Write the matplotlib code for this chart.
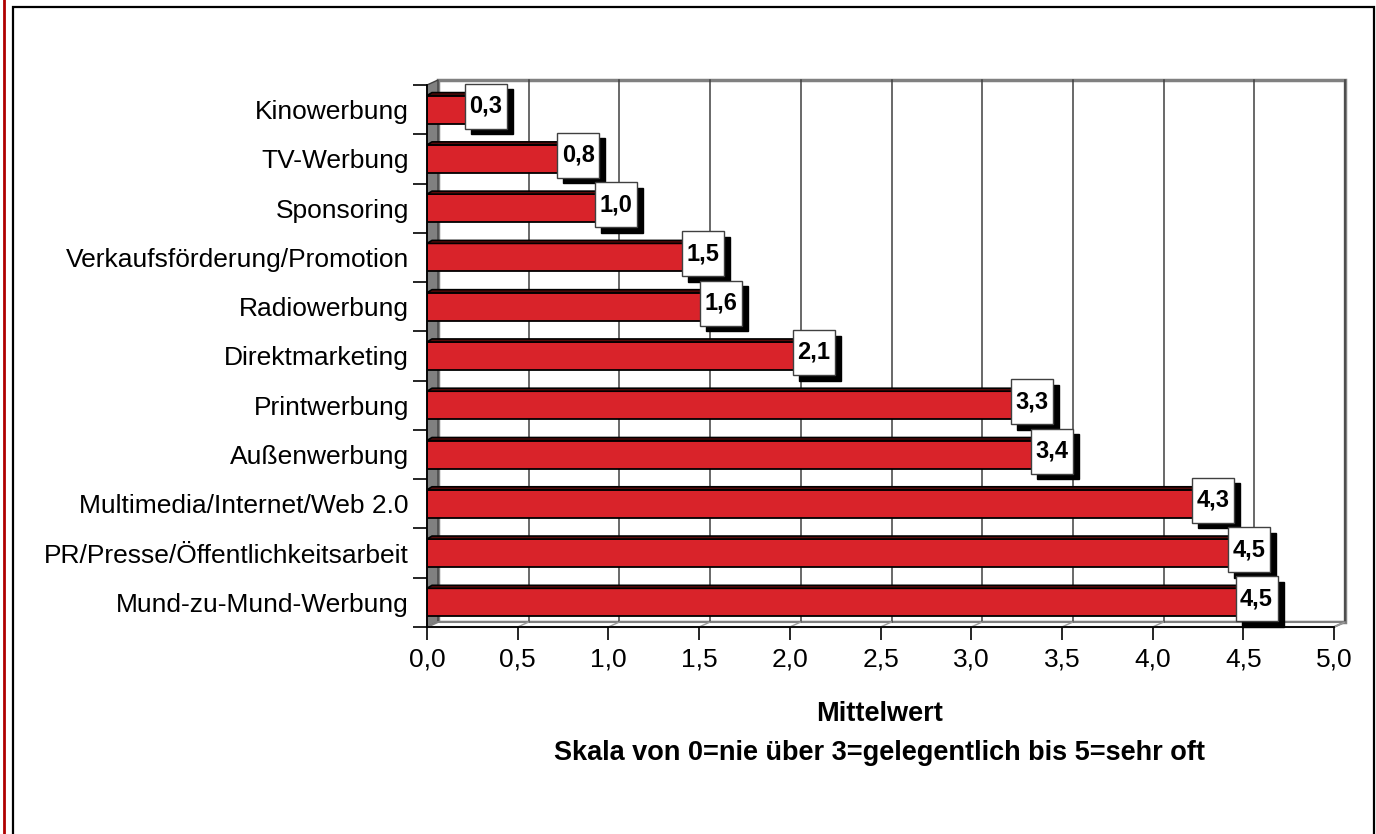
import matplotlib
matplotlib.use("Agg")
import matplotlib.pyplot as plt
from matplotlib.patches import Polygon, Rectangle
from matplotlib.lines import Line2D

plt.rcParams['font.family'] = ['Liberation Sans', 'DejaVu Sans']

# data (top to bottom as shown)
categories = ["Kinowerbung", "TV-Werbung", "Sponsoring", "Verkaufsförderung/Promotion",
              "Radiowerbung", "Direktmarketing", "Printwerbung", "Außenwerbung",
              "Multimedia/Internet/Web 2.0", "PR/Presse/Öffentlichkeitsarbeit",
              "Mund-zu-Mund-Werbung"]
values = [0.29, 0.80, 1.01, 1.49, 1.59, 2.10, 3.30, 3.41, 4.30, 4.50, 4.54]
xticks = [0.0, 0.5, 1.0, 1.5, 2.0, 2.5, 3.0, 3.5, 4.0, 4.5, 5.0]
xlabel_1 = "Mittelwert"
xlabel_2 = "Skala von 0=nie über 3=gelegentlich bis 5=sehr oft"

W, H = 1376, 834
fig = plt.figure(figsize=(W / 100, H / 100), dpi=100)

# plot area in pixels (front plane)
left_px, right_px, top_px, bot_px = 427, 1334, 85, 627
ax = fig.add_axes([left_px / W, 1 - bot_px / H, (right_px - left_px) / W, (bot_px - top_px) / H])
n = len(categories)
ypos = list(range(n - 1, -1, -1))
ax.set_xlim(0, 5)
ax.set_ylim(-0.5, n - 0.5)

# pixel -> data conversions for the 3d look
px_x = 5 / (right_px - left_px)
px_y = n / (bot_px - top_px)
DX, DY = 11 * px_x, 5 * px_y      # wall depth
BX, BY = 5 * px_x, 3 * px_y       # bar depth

grey = '#808080'

# back wall
ax.add_patch(Rectangle((DX, -0.5 + DY), 5, n, fc='white', ec=grey, lw=2.5, zorder=0.5, clip_on=False))
# left wall
ax.add_patch(Polygon([(0, -0.5), (0, n - 0.5), (DX, n - 0.5 + DY), (DX, -0.5 + DY)],
                     closed=True, fc=grey, ec='#404040', lw=1, zorder=0.6, clip_on=False))
# floor
ax.add_patch(Polygon([(0, -0.5), (5, -0.5), (5 + DX, -0.5 + DY), (DX, -0.5 + DY)],
                     closed=True, fc='white', ec=grey, lw=1.5, zorder=0.6, clip_on=False))

# gridlines on back wall + floor lines
for t in xticks[1:]:
    ax.add_line(Line2D([t + DX, t + DX], [-0.5 + DY, n - 0.5 + DY], color='#404040', lw=1.1,
                       zorder=0.7, clip_on=False))
    ax.add_line(Line2D([t, t + DX], [-0.5, -0.5 + DY], color='#999999', lw=1,
                       zorder=0.7, clip_on=False))

# bars
bar_h = 0.57
red = '#D9232A'
ax.barh(ypos, values, height=bar_h, color=red, edgecolor='black', lw=1.3, zorder=2)
for y, v in zip(ypos, values):
    yt = y + bar_h / 2
    yb = y - bar_h / 2
    ax.add_patch(Polygon([(0, yt), (v, yt), (v + BX, yt + BY), (BX, yt + BY)], closed=True,
                         fc='#5a0a0a', ec='black', lw=1.2, zorder=2.1, clip_on=False))
    ax.add_patch(Polygon([(v, yb), (v, yt), (v + BX, yt + BY), (v + BX, yb + BY)], closed=True,
                         fc='#8a1414', ec='black', lw=1.2, zorder=2.1, clip_on=False))

# value labels: white box with black drop shadow
box_w, box_h = 42 * px_x, 45 * px_y
off_x, off_y = 6 * px_x, 3.5 * px_y
sh_x, sh_y = 6 * px_x, 5.5 * px_y
for y, v in zip(ypos, values):
    txt = f"{v:.1f}".replace('.', ',')
    cx, cy = v + off_x, y + off_y
    ax.add_patch(Rectangle((cx - box_w / 2 + sh_x, cy - box_h / 2 - sh_y), box_w, box_h,
                           fc='black', ec='black', lw=1, zorder=3, clip_on=False))
    ax.add_patch(Rectangle((cx - box_w / 2, cy - box_h / 2), box_w, box_h,
                           fc='white', ec='#404040', lw=1, zorder=3.5, clip_on=False))
    ax.text(cx, cy, txt, ha='center', va='center', fontsize=17, fontweight='bold',
            color='black', zorder=4)

# axes styling
for s in ['top', 'right']:
    ax.spines[s].set_visible(False)
ax.spines['left'].set_color('black')
ax.spines['bottom'].set_color('black')
ax.spines['left'].set_linewidth(1.3)
ax.spines['bottom'].set_linewidth(1.3)
ax.set_facecolor('none')

ax.set_xticks(xticks)
ax.set_xticklabels([f"{t:.1f}".replace('.', ',') for t in xticks], fontsize=19)
ax.tick_params(axis='x', direction='out', length=9, width=1.2, pad=6, colors='black')

ax.set_yticks(ypos)
ax.set_yticklabels(categories, fontsize=19)
ax.set_yticks([i - 0.5 for i in range(n + 1)], minor=True)
ax.tick_params(axis='y', which='major', length=0, pad=13)
ax.tick_params(axis='y', which='minor', length=10, width=1.2, direction='out')

fig.text(880 / W, 1 - 714 / H, xlabel_1, ha='center', va='center', fontsize=19.5, fontweight='bold')
fig.text(880 / W, 1 - 753 / H, xlabel_2, ha='center', va='center', fontsize=19.5, fontweight='bold')

# outer frame
fig.add_artist(Rectangle((13 / W, -0.01), (1374 - 13) / W, 1.01 - 7 / H, transform=fig.transFigure,
                         fc='none', ec='black', lw=1.6))
fig.add_artist(Line2D([4 / W, 4 / W], [0, 1], transform=fig.transFigure, color='#B00000', lw=2))

fig.savefig("out.png", dpi=100)
